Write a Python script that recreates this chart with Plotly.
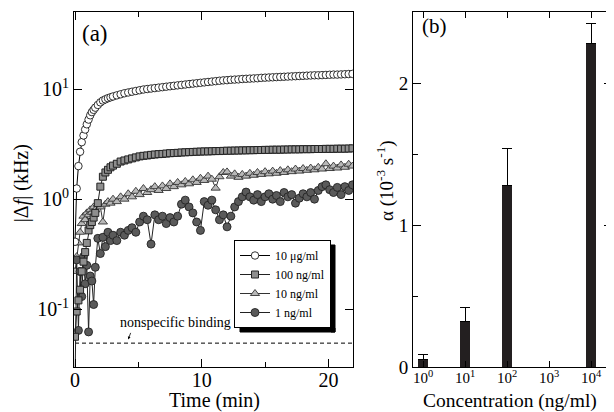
import math
import plotly.graph_objects as go

# ---------------- data: panel (a) ----------------
time_min = [0, 0.13, 0.27, 0.4, 0.53, 0.67, 0.8, 0.93, 1.07, 1.2, 1.33, 1.47, 1.6, 1.8, 2.0, 2.2, 2.4, 2.6, 2.8, 3.0,
            3.3, 3.6, 3.9, 4.2, 4.5, 4.8, 5.1, 5.4, 5.7, 6.0,
            6.3, 6.6, 6.9, 7.2, 7.5, 7.8, 8.1, 8.4, 8.7, 9.0,
            9.3, 9.6, 9.9, 10.2, 10.5, 10.8, 11.1, 11.4, 11.7, 12.0,
            12.3, 12.6, 12.9, 13.2, 13.5, 13.8, 14.1, 14.4, 14.7, 15.0,
            15.3, 15.6, 15.9, 16.2, 16.5, 16.8, 17.1, 17.4, 17.7, 18.0,
            18.3, 18.6, 18.9, 19.2, 19.5, 19.8, 20.1, 20.4, 20.7, 21.0,
            21.3, 21.6, 21.9]

df_10ug = [0.41, 1.25, 2.0, 2.7, 3.3, 3.8, 4.3, 4.8, 5.3, 5.8, 6.2, 6.5, 6.8, 7.2, 7.6, 7.9, 8.1, 8.3, 8.45, 8.6,
           8.8, 9.0, 9.2, 9.35, 9.5, 9.65, 9.8, 9.95, 10.05, 10.15,
           10.25, 10.35, 10.45, 10.55, 10.65, 10.75, 10.85, 10.95, 11.05, 11.15,
           11.25, 11.35, 11.45, 11.55, 11.65, 11.75, 11.85, 11.95, 12.05, 12.1,
           12.2, 12.25, 12.3, 12.4, 12.45, 12.5, 12.55, 12.6, 12.7, 12.75,
           12.8, 12.85, 12.9, 12.95, 13.0, 13.05, 13.1, 13.15, 13.2, 13.25,
           13.3, 13.35, 13.4, 13.4, 13.45, 13.5, 13.55, 13.6, 13.6, 13.65,
           13.7, 13.75, 13.8]

df_100ng = [0.056, 0.095, 0.12, 0.15, 0.22, 0.27, 0.33, 0.40, 0.52, 0.58, 0.62, 0.68, 0.75, 0.92, 1.3, 1.6, 1.75, 1.85, 1.95, 2.02,
            2.1, 2.2, 2.25, 2.3, 2.35, 2.4, 2.45, 2.48, 2.5, 2.53,
            2.55, 2.57, 2.58, 2.6, 2.62, 2.63, 2.64, 2.66, 2.67, 2.68,
            2.69, 2.7, 2.71, 2.72, 2.72, 2.73, 2.74, 2.74, 2.75, 2.76,
            2.76, 2.77, 2.77, 2.78, 2.78, 2.79, 2.79, 2.8, 2.8, 2.81,
            2.81, 2.82, 2.82, 2.82, 2.83, 2.83, 2.84, 2.84, 2.84, 2.85,
            2.85, 2.85, 2.86, 2.86, 2.86, 2.87, 2.87, 2.87, 2.88, 2.88,
            2.88, 2.89, 2.9]

df_10ng = [0.22, 0.3, 0.4, 0.5, 0.6, 0.7, 0.65, 0.75, 0.72, 0.8, 0.76, 0.85, 0.8, 0.9, 0.85, 0.62, 0.9, 0.95, 0.92, 1.0,
           0.95, 1.05, 1.0, 1.12, 1.05, 1.18, 1.1, 1.25, 1.15, 1.22,
           1.3, 1.2, 1.32, 1.25, 1.38, 1.3, 1.42, 1.35, 1.45, 1.38,
           1.5, 1.42, 1.55, 1.48, 1.62, 1.52, 1.26, 1.6, 1.75, 1.77,
           1.62, 1.7, 1.58, 1.68, 1.62, 1.72, 1.65, 1.75, 1.68, 1.78,
           1.7, 1.8, 1.72, 1.82, 1.75, 1.85, 1.78, 1.88, 1.8, 1.9,
           1.83, 1.92, 1.85, 1.95, 1.88, 2.1, 1.9, 2.0, 1.92, 2.05,
           1.95, 2.08, 2.0]

df_1ng = [0.02, 0.28, 0.064, 0.22, 0.13, 0.3, 0.17, 0.25, 0.062, 0.2, 0.18, 0.11, 0.24, 0.44, 0.32, 0.45, 0.37, 0.5, 0.42, 0.47,
          0.42, 0.5, 0.47, 0.52, 0.55, 0.5, 0.62, 0.7, 0.65, 0.39,
          0.72, 0.65, 0.7, 0.6, 0.68, 0.62, 0.7, 0.9, 0.98, 0.85,
          0.75, 0.62, 0.52, 0.95, 0.88, 0.98, 0.8, 0.65, 0.72, 0.56,
          0.7, 0.85, 0.95, 1.05, 1.16, 1.05, 0.98, 1.1, 0.95, 1.05,
          1.12, 1.0, 1.08, 0.95, 1.15, 1.05, 1.1, 0.92, 1.02, 1.12,
          1.05, 1.15, 1.0, 1.2, 1.3, 1.35, 1.22, 1.15, 1.28, 1.1,
          1.3, 1.2, 1.35]

nonspecific_level = 0.049
nonspecific_span = [0, 22]

# ---------------- data: panel (b) ----------------
concentration_ng_ml = [1, 10, 100, 10000]
alpha_values = [0.05, 0.32, 1.28, 2.28]
alpha_err_plus = [0.04, 0.10, 0.26, 0.14]
conc_tick_exponents = [0, 1, 2, 3, 4]
conc_tick_labels = ["10<sup>0</sup>", "10<sup>1</sup>", "10<sup>2</sup>", "10<sup>3</sup>", "10<sup>4</sup>"]

W, H = 614, 412
OFF = 8  # page body margin offset compensation
FONT = "Liberation Serif"


def px(x):
    return (x - OFF) / W


def py(y):
    return 1 - (y - OFF) / H


fig = go.Figure()

# dashed nonspecific binding line
fig.add_trace(go.Scatter(x=nonspecific_span, y=[nonspecific_level] * 2, mode="lines",
                         line=dict(color="black", width=1, dash="4px,3px"),
                         showlegend=False, hoverinfo="skip", xaxis="x", yaxis="y"))

series = [
    ("10 ng/ml", df_10ng, dict(symbol="triangle-up", size=8, color="#b8b8b8", line=dict(color="#333333", width=0.9)), "#333333", 3),
    ("1 ng/ml", df_1ng, dict(symbol="circle", size=8, color="#5a5a5a", line=dict(color="#222222", width=0.9)), "#222222", 4),
    ("100 ng/ml", df_100ng, dict(symbol="square", size=7, color="#8e8e8e", line=dict(color="#222222", width=1)), "#222222", 2),
    ("10 μg/ml", df_10ug, dict(symbol="circle", size=7.5, color="white", line=dict(color="black", width=0.8)), "black", 1),
]
for name, vals, mk, lc, rank in series:
    fig.add_trace(go.Scatter(x=time_min, y=vals, name=name, mode="lines+markers",
                             marker=mk, line=dict(color=lc, width=1), legendrank=rank,
                             xaxis="x", yaxis="y"))

# bars
fig.add_trace(go.Bar(x=[math.log10(c) for c in concentration_ng_ml], y=alpha_values, width=0.24,
                     marker=dict(color="#231f20", line=dict(width=0)),
                     error_y=dict(type="data", symmetric=False, array=alpha_err_plus,
                                  arrayminus=[0] * len(alpha_err_plus), color="black", thickness=1, width=5),
                     showlegend=False, xaxis="x2", yaxis="y2"))

axis_common = dict(showline=True, linecolor="black", linewidth=1, mirror="ticks", ticks="inside",
                   tickcolor="black", tickwidth=1, showgrid=False, zeroline=False, automargin=False,
                   tickfont=dict(family=FONT, size=20, color="black"))

# legend box placement (right / bottom edges fixed so the drop shadow lines up)
LEG_R, LEG_B, LEG_W, LEG_H, SHADOW = 331, 328, 95, 87, 4

dom_y = [py(367), py(12)]
fig.update_layout(
    template="none",
    width=W, height=H, margin=dict(l=0, r=0, t=0, b=0, autoexpand=False),
    paper_bgcolor="white", plot_bgcolor="white",
    font=dict(family=FONT, color="black"),
    xaxis=dict(axis_common, domain=[px(74), px(353)], range=[-0.08, 21.94], tickvals=[0, 10, 20],
               ticklen=8, ticklabelstandoff=-5,
               minor=dict(tickvals=[5, 15], ticklen=5, ticks="inside", tickcolor="black"), anchor="y"),
    yaxis=dict(axis_common, domain=dom_y, type="log", range=[-1.527, 1.703], tickvals=[0.1, 1, 10],
               ticktext=["10<sup>-1</sup>", "10<sup>0</sup>", "10<sup>1</sup>"], ticklen=8, anchor="x"),
    xaxis2=dict(axis_common, domain=[px(413), px(612)], range=[-0.24, 4.5], tickvals=conc_tick_exponents,
                ticktext=conc_tick_labels, ticklen=6, ticklabelstandoff=-3,
                tickfont=dict(family=FONT, size=15, color="black"), anchor="y2"),
    yaxis2=dict(axis_common, domain=dom_y, range=[0, 2.5], tickvals=[0, 1, 2], ticklen=8,
                tickfont=dict(family=FONT, size=19, color="black"),
                minor=dict(tickvals=[0.5, 1.5], ticklen=5, ticks="inside", tickcolor="black"),
                anchor="x2"),
    legend=dict(x=px(LEG_R), y=py(LEG_B), xanchor="right", yanchor="bottom",
                bgcolor="white", bordercolor="black", borderwidth=1,
                font=dict(family=FONT, size=12), itemwidth=30, tracegroupgap=0),
    showlegend=True,
    bargap=0,
)

# legend drop shadow: right and bottom strips as paper shapes
fig.add_shape(type="rect", xref="paper", yref="paper",
              x0=px(LEG_R), x1=px(LEG_R + SHADOW),
              y0=py(LEG_B + SHADOW), y1=py(LEG_B - LEG_H + SHADOW),
              fillcolor="black", line=dict(color="black", width=1), layer="above")
fig.add_shape(type="rect", xref="paper", yref="paper",
              x0=px(LEG_R - LEG_W + SHADOW), x1=px(LEG_R + SHADOW),
              y0=py(LEG_B + SHADOW), y1=py(LEG_B),
              fillcolor="black", line=dict(color="black", width=1), layer="above")

annots = [
    dict(text="(a)", x=px(95), y=py(34), font=dict(family=FONT, size=23)),
    dict(text="(b)", x=px(434), y=py(26), font=dict(family=FONT, size=21)),
    dict(text="nonspecific binding", x=px(175), y=py(322), font=dict(family=FONT, size=14)),
    dict(text="Time (min)", x=px(214), y=py(400), font=dict(family=FONT, size=20)),
    dict(text="Concentration (ng/ml)", x=px(510), y=py(401), font=dict(family=FONT, size=19.5)),
    dict(text="|Δ<i>f</i>| (kHz)", x=px(21.7), y=py(183.5), textangle=-90, font=dict(family=FONT, size=20)),
    dict(text="α (10<sup>-3</sup> s<sup>-1</sup>)", x=px(386), y=py(181), textangle=-90,
         font=dict(family=FONT, size=19)),
]
for a in annots:
    a.update(xref="paper", yref="paper", showarrow=False, xanchor="center", yanchor="middle")

annots.append(dict(text="", x=4.2, y=math.log10(0.053), xref="x", yref="y", showarrow=True, ax=3, ay=-8,
                   arrowhead=2, arrowsize=0.7, arrowwidth=0.8, arrowcolor="black"))
fig.update_layout(annotations=annots)

fig.write_html("out.html")
